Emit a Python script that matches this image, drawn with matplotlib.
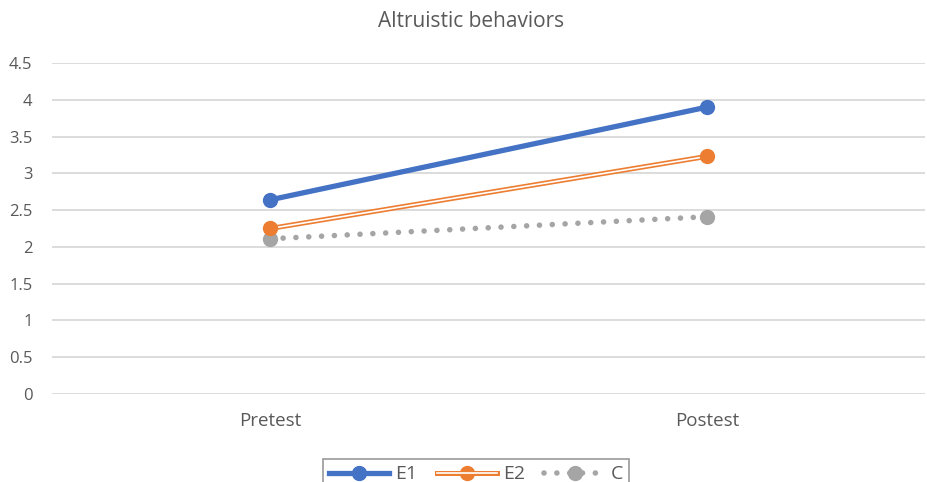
import matplotlib.pyplot as plt
from matplotlib.lines import Line2D
from matplotlib.legend_handler import HandlerTuple

# 测试阶段与三组的平均得分
stages = ['Pretest', 'Postest']
e1 = [2.64, 3.90]
e2 = [2.25, 3.23]
c = [2.11, 2.41]

plt.rcParams['font.family'] = ['Open Sans', 'DejaVu Sans']

fig = plt.figure(figsize=(9.28, 4.82), dpi=100)
ax = fig.add_axes([0.056, 0.1826, 0.941, 0.6867])

x = range(len(stages))
blue = '#4472c4'
orange = '#ed7d31'
grey = '#a5a5a5'
dots = (0, (0.01, 2.3))

ax.plot(x, e1, color=blue, lw=3.8, marker='o', ms=10, solid_capstyle='round', zorder=4)
# 双线：粗橙线上叠一条细白线
ax.plot(x, e2, color=orange, lw=3.6, zorder=3)
ax.plot(x, e2, color='white', lw=1.2, zorder=3)
ax.plot(x, e2, ls='none', marker='o', ms=10, color=orange, zorder=4)
ax.plot(x, c, color=grey, lw=4, ls=dots, dash_capstyle='round', zorder=2)
ax.plot(x, c, ls='none', marker='o', ms=10, color=grey, zorder=2)

ax.set_xlim(-0.5, 1.5)
ax.set_ylim(0, 4.5)
ax.set_yticks([0, 0.5, 1, 1.5, 2, 2.5, 3, 3.5, 4, 4.5])
ax.set_yticklabels(['0', '0.5', '1', '1.5', '2', '2.5', '3', '3.5', '4', '4.5'])
ax.set_xticks(list(x))
ax.set_xticklabels(stages)
ax.grid(axis='y', color='#d9d9d9', lw=1.3)
ax.set_axisbelow(True)
for s in ax.spines.values():
    s.set_visible(False)
ax.tick_params(length=0, colors='#595959', labelsize=12)
ax.tick_params(axis='x', pad=13, labelsize=13.5)
ax.tick_params(axis='y', pad=14)

fig.text(0.508, 0.955, 'Altruistic behaviors', fontsize=15, color='#595959',
         ha='center', va='center')

handles = [
    Line2D([], [], color=blue, lw=3.8, marker='o', ms=10),
    (Line2D([], [], color=orange, lw=3.6, marker='o', ms=10),
     Line2D([], [], color='white', lw=1.2)),
    Line2D([], [], color=grey, lw=4, ls=dots, dash_capstyle='round', marker='o', ms=10),
]
leg = fig.legend(handles, ['E1', 'E2', 'C'], loc='lower center', bbox_to_anchor=(0.513, -0.035),
                 ncol=3, frameon=True, fancybox=False, fontsize=14, handlelength=3.1,
                 handler_map={tuple: HandlerTuple(ndivide=1)}, columnspacing=1.0,
                 borderpad=0.3, handletextpad=0.3)
leg.get_frame().set_edgecolor('#808080')
leg.get_frame().set_linewidth(1.2)
for t in leg.get_texts():
    t.set_color('#595959')

fig.savefig('out.png', dpi=100)
